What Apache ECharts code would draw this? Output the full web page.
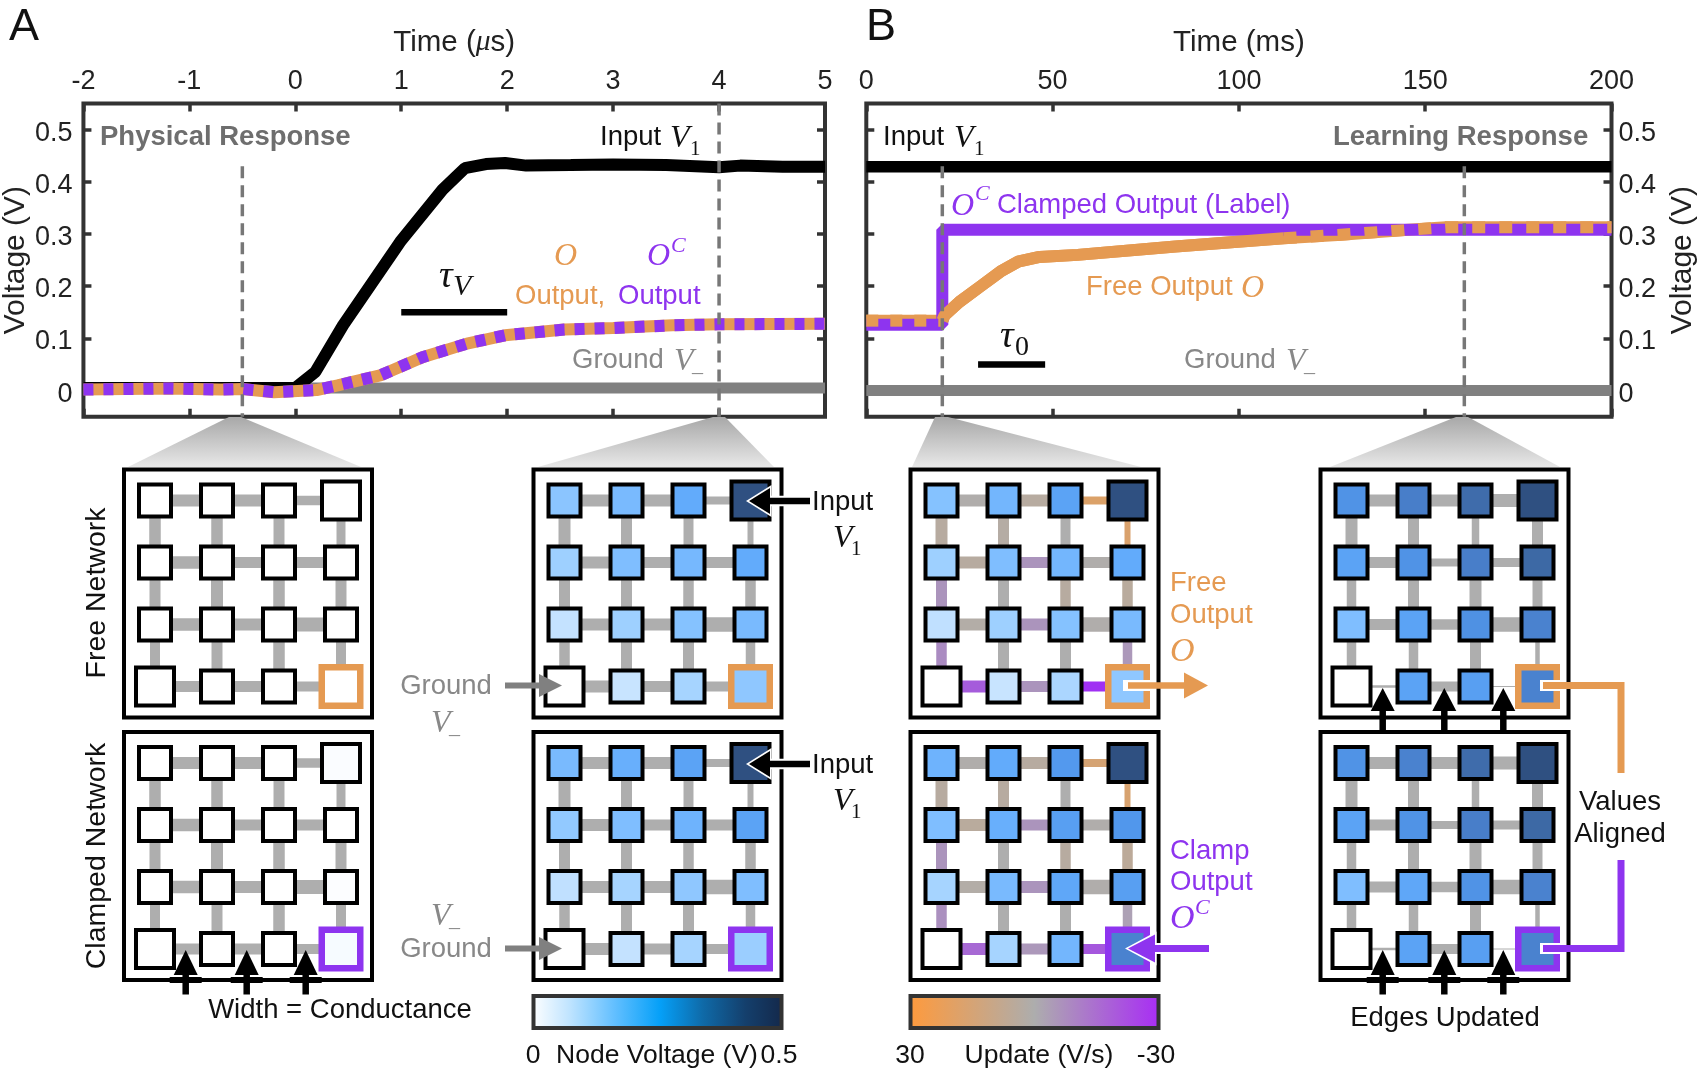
<!DOCTYPE html>
<html><head><meta charset="utf-8">
<style>html,body{margin:0;padding:0;background:#fff}#c{width:1700px;height:1070px}</style>
<script src="https://cdn.jsdelivr.net/npm/echarts@6/dist/echarts.min.js"></script>
</head><body><div id="c"></div>
<script>
// ---------- Plot A: physical response (time in microseconds, volts) ----------
const inputA = [[-2,.005],[0,.005],[.19,.036],[.45,.125],[.99,.285],[1.39,.385],[1.6,.426],[1.8,.434],[1.98,.436],[2.18,.431],[2.6,.432],[3,.433],[3.5,.432],[4,.428],[4.2,.431],[4.6,.429],[5,.429]];
const outputA = [[-2,.002],[-1.2,.004],[-.7,.002],[-.5,.003],[-.2,-.003],[.2,.001],[.4,.01],[.8,.029],[1.2,.064],[1.62,.09],[1.98,.106],[2.54,.117],[3,.12],[3.56,.125],[4,.127],[5,.128]];
const groundA = [[-2,.005],[5,.005]];
const tauA = [[1,.15],[2,.15]];
const cursorsA = [[[-.5,.43],[-.5,-.05]],[[4,.55],[4,-.05]]];
// ---------- Plot B: learning response (time in milliseconds, volts) ----------
const inputB = [[0,.429],[200,.429]];
const clampB = [[0,.126],[20.4,.126],[20.4,.308],[200,.308]];
const freeB = [[0,.134],[20.4,.134],[21,.144],[25,.17],[30.5,.199],[36,.228],[40.7,.247],[46.5,.256],[56.7,.26],[83,.276],[112,.292],[126.5,.298],[145.5,.308],[155.6,.313],[200,.313]];
const groundB = [[0,0],[200,0]];
const tauB = [[30,.05],[48,.05]];
const cursorsB = [[[20.4,.43],[20.4,-.05]],[[160.5,.43],[160.5,-.05]]];
const voltTicks = [0,.1,.2,.3,.4,.5];

// ---------- Networks: node voltages, rows top to bottom ----------
const nodesA1Free = [[0,0,0,0],[0,0,0,0],[0,0,0,0],[0,0,0,0]];
const nodesA1Clamp = [[0,0,0,.005],[0,0,0,0],[0,0,0,.003],[0,0,0,.008]];
const nodesA2Free = [[.13,.16,.2,.44],[.1,.15,.165,.2],[.055,.1,.14,.16],[0,.05,.09,.125]];
const nodesA2Clamp = [[.16,.19,.22,.44],[.12,.15,.18,.22],[.06,.09,.125,.15],[0,.055,.09,.105]];
const nodesB1Free = [[.14,.17,.22,.44],[.1,.15,.17,.2],[.06,.1,.14,.16],[0,.05,.085,.125]];
const nodesB1Clamp = [[.18,.2,.245,.44],[.15,.19,.23,.25],[.09,.16,.21,.23],[0,.09,.17,.3]];
const nodesB2Free = [[.26,.31,.36,.44],[.22,.26,.31,.37],[.15,.22,.265,.3],[0,.22,.23,.3]];
const nodesB2Clamp = [[.26,.3,.36,.44],[.22,.26,.31,.37],[.15,.21,.26,.3],[0,.22,.23,.3]];
// ---------- Edge conductances (drawn widths): horizontal by row, vertical by row gap ----------
const widthInitialH = [[12,12,9.5],[12.5,11,11],[12.5,12,14],[11,11,10]];
const widthInitialV = [[11.5,11.5,11,9],[11,12,11.5,11],[10,11,11.5,10]];
const widthBeforeH = [[12,12,8],[12,11,11],[12,12,14.5],[12,11,10]];
const widthBeforeV = [[12,11,10,6],[11,11,10.5,10.5],[10.5,11,11,9.5]];
const widthAfterH = [[12,12,13],[11,8,9],[11,10.5,14.5],[2.5,10,1]];
const widthAfterV = [[12,11,7.5,11],[9.5,11,12,10],[9.5,9.5,11,4.5]];
// ---------- Edge update rates (V/s), 0 = none ----------
const noUpdateH = [[0,0,0],[0,0,0],[0,0,0],[0,0,0]];
const noUpdateV = [[0,0,0,0],[0,0,0,0],[0,0,0,0]];
const updateFreeH = [[1,4,20],[4,-6,1],[2,-6,1],[-19,-6,-29]];
const updateFreeV = [[4,3,0,19],[-6,0,4,5],[-8,0,0,-5]];
const updateClampH = [[1,4,17],[5,-6,1],[2,-6,1],[-16,-5,-20]];
const updateClampV = [[4,4,0,18],[-6,0,4,6],[-7,0,0,-3]];
// ---------- Colour scales ----------
const voltStops = [[0,'#ffffff'],[.05,'#c8e4ff'],[.1,'#9ed0ff'],[.15,'#7fbeff'],[.2,'#62abfb'],[.25,'#5197ec'],[.3,'#4a82cf'],[.35,'#416fb0'],[.4,'#385f95'],[.45,'#2d4c7c']];
const colors = {orange:'#E59A52', purple:'#8E34EF', grey:'#808080', frame:'#333333'};

function hex(c){return [1,3,5].map(i=>parseInt(c.slice(i,i+2),16));}
function mix(a,b,t){const A=hex(a),B=hex(b);return 'rgb('+A.map((v,i)=>Math.round(v+(B[i]-v)*t)).join(',')+')';}
function voltColor(v){
  for(let i=1;i<voltStops.length;i++){ if(v<=voltStops[i][0]){const a=voltStops[i-1],b=voltStops[i];return mix(a[1],b[1],(v-a[0])/(b[0]-a[0]));}}
  return voltStops[voltStops.length-1][1];
}
function updateColor(u){
  return u>=0 ? mix('#AEAEAE','#F29A45',Math.min(1,u/30)) : mix('#AEAEAE','#A02CF5',Math.min(1,-u/30));
}

const option = {animation:false, backgroundColor:'#fff', textStyle:{fontFamily:'"Liberation Sans"'},
  grid:[], xAxis:[], yAxis:[], series:[], graphic:{elements:[]}};
const SANS='"Liberation Sans"', SERIF='"Liberation Serif"';
const FS=27.5;

// -------------- line plots ---------------
function plot(cfg){
  const g=option.grid.length;
  option.grid.push({left:cfg.left,top:103.5,width:cfg.width,height:313.2,show:true,borderColor:colors.frame,borderWidth:4,backgroundColor:'transparent'});
  const tickStyle={show:true,inside:true,length:8,lineStyle:{color:colors.frame,width:3.5}};
  const hiddenLine={show:false,onZero:false};
  const x0=option.xAxis.length, y0=option.yAxis.length;
  option.xAxis.push({gridIndex:g,type:'value',position:'top',min:cfg.xMin,max:cfg.xMax,interval:cfg.xStep,axisLine:hiddenLine,splitLine:{show:false},axisTick:tickStyle,
    axisLabel:{show:true,fontSize:FS-.5,color:'#222',margin:8.5,fontFamily:SANS,showMinLabel:true,showMaxLabel:true},
    name:cfg.xName,nameLocation:'middle',nameGap:46,nameTextStyle:{fontSize:29.5,color:'#222',fontFamily:SANS,rich:{a:{fontSize:29.5,color:'#222',fontFamily:SANS},m:{fontSize:29.5,color:'#222',fontFamily:SERIF,fontStyle:'italic'}}}});
  option.xAxis.push({gridIndex:g,type:'value',position:'bottom',min:cfg.xMin,max:cfg.xMax,interval:cfg.xStep,axisLine:hiddenLine,splitLine:{show:false},axisTick:tickStyle,axisLabel:{show:false}});
  const yBase={gridIndex:g,type:'value',min:-.05,max:.55,axisLine:hiddenLine,splitLine:{show:false}};
  const labelled={show:true,customValues:voltTicks,color:'#222',margin:cfg.yLabelMargin,fontFamily:SANS,
    formatter:v=>'{a|'+(v===0?'0':v.toFixed(1))+'}',
    rich:{a:{fontSize:FS-.5,color:'#222',fontFamily:SANS,padding:[7,0,0,0]}}};
  option.yAxis.push(Object.assign({},yBase,{position:cfg.labelSide,axisTick:Object.assign({},tickStyle,{customValues:voltTicks}),axisLabel:labelled,
    name:'Voltage (V)',nameLocation:'middle',nameRotate:90,nameGap:cfg.yNameGap,nameTextStyle:{fontSize:30,color:'#222',fontFamily:SANS}}));
  option.yAxis.push(Object.assign({},yBase,{position:cfg.labelSide==='left'?'right':'left',axisTick:Object.assign({},tickStyle,{customValues:voltTicks}),axisLabel:{show:false}}));
  cfg.lines.forEach(l=>{
    option.series.push({type:'line',xAxisIndex:x0,yAxisIndex:y0,data:l.data,showSymbol:false,silent:true,z:l.z||2,
      lineStyle:{color:l.color,width:l.width||12,cap:'butt',join:'bevel',type:l.dash||'solid',dashOffset:l.offset||0,opacity:1}});
  });
}
plot({left:81.3,width:743.7,xMin:-2,xMax:5,xStep:1,labelSide:'left',yLabelMargin:11,yNameGap:52,
  xName:'{a|Time (}{m|\u03bc}{a|s)}',
  lines:[
    {data:groundA,color:colors.grey,width:11},
    {data:inputA,color:'#000',width:12},
    {data:tauA,color:'#000',width:6.5},
    {data:outputA,color:colors.orange,width:12},
    {data:outputA,color:colors.purple,width:12,dash:[10,10]},
    {data:cursorsA[0],color:'#777',width:3.5,dash:[12,7],z:3},
    {data:cursorsA[1],color:'#777',width:3.5,dash:[12,7],z:3}
  ]});
plot({left:866.3,width:745.2,xMin:0,xMax:200,xStep:50,labelSide:'right',yLabelMargin:7,yNameGap:56,
  xName:'Time (ms)',
  lines:[
    {data:groundB,color:colors.grey,width:11},
    {data:inputB,color:'#000',width:11.5},
    {data:tauB,color:'#000',width:6.5},
    {data:freeB,color:colors.orange},
    {data:clampB,color:colors.purple},
    {data:freeB.filter(p=>p[0]<=20.4),color:colors.orange,dash:[12,12]},
    {data:freeB.filter(p=>p[0]>=20.4&&p[0]<=112),color:colors.orange},
    {data:freeB.filter(p=>p[0]>=112),color:colors.orange,dash:[13,14]},
    {data:cursorsB[0],color:'#777',width:3.5,dash:[12,7],z:3},
    {data:cursorsB[1],color:'#777',width:3.5,dash:[12,7],z:3}
  ]});

// -------------- networks ----------------
function network(left,top,nodes,wH,wV,uH,uV,outColor){
  const g=option.grid.length, x=option.xAxis.length, y=option.yAxis.length;
  option.grid.push({left,top,width:248,height:248,show:true,borderColor:'#000',borderWidth:4,backgroundColor:'transparent'});
  option.xAxis.push({gridIndex:g,type:'value',min:-.5,max:3.5,show:false});
  option.yAxis.push({gridIndex:g,type:'value',min:-.5,max:3.5,inverse:true,show:false});
  const edges=[];
  wH.forEach((row,r)=>row.forEach((w,c)=>edges.push([c,r,c+1,r,w,uH[r][c]])));
  wV.forEach((row,r)=>row.forEach((w,c)=>edges.push([c,r,c,r+1,w,uV[r][c]])));
  option.series.push({type:'custom',coordinateSystem:'cartesian2d',xAxisIndex:x,yAxisIndex:y,data:edges,silent:true,z:2,clip:false,
    encode:{x:[0,2],y:[1,3]},
    renderItem:(p,api)=>{
      const a=api.coord([api.value(0),api.value(1)]), b=api.coord([api.value(2),api.value(3)]);
      return {type:'line',shape:{x1:a[0],y1:a[1],x2:b[0],y2:b[1]},style:{stroke:updateColor(api.value(5)),lineWidth:api.value(4),lineCap:'butt'}};
    }});
  const pts=[];
  nodes.forEach((row,r)=>row.forEach((v,c)=>{
    const isOut=(c===3&&r===3), isBig=(c===3&&r===0)||(c===0&&r===3);
    pts.push({value:[c,r],symbolSize:isOut?38.5:isBig?38:32,
      itemStyle:{color:voltColor(v),opacity:1,borderColor:isOut?outColor:'#000',borderWidth:isOut?6.5:4}});
  }));
  option.series.push({type:'scatter',xAxisIndex:x,yAxisIndex:y,symbol:'rect',data:pts,silent:true,z:3,clip:false,itemStyle:{opacity:1}});
}
const colX=[124,533.5,910.5,1320.5], rowY=[469.5,732];
network(colX[0],rowY[0],nodesA1Free,widthInitialH,widthInitialV,noUpdateH,noUpdateV,colors.orange);
network(colX[0],rowY[1],nodesA1Clamp,widthInitialH,widthInitialV,noUpdateH,noUpdateV,colors.purple);
network(colX[1],rowY[0],nodesA2Free,widthBeforeH,widthBeforeV,noUpdateH,noUpdateV,colors.orange);
network(colX[1],rowY[1],nodesA2Clamp,widthBeforeH,widthBeforeV,noUpdateH,noUpdateV,colors.purple);
network(colX[2],rowY[0],nodesB1Free,widthBeforeH,widthBeforeV,updateFreeH,updateFreeV,colors.orange);
network(colX[2],rowY[1],nodesB1Clamp,widthBeforeH,widthBeforeV,updateClampH,updateClampV,colors.purple);
network(colX[3],rowY[0],nodesB2Free,widthAfterH,widthAfterV,noUpdateH,noUpdateV,colors.orange);
network(colX[3],rowY[1],nodesB2Clamp,widthAfterH,widthAfterV,noUpdateH,noUpdateV,colors.purple);

// -------------- annotations --------------
const G=option.graphic.elements;
function T(text,x,y,o){o=o||{};
  G.push({type:'text',x,y:y+(o.rot?0:1.5),rotation:o.rot||0,z:100,silent:true,style:{text,fill:o.fill||'#222',align:o.align||'left',verticalAlign:'middle',
    fontFamily:o.serif?SERIF:SANS,fontStyle:o.serif&&!o.upright?'italic':'normal',fontWeight:o.bold?'bold':'normal',fontSize:o.size||FS}});
}
function M(text,x,y,fill,size){T(text,x,y,{serif:true,fill,size:size||32});}
function Sub(text,x,y,fill){T(text,x,y,{serif:true,upright:true,fill,size:21});}
function poly(points,fill,z){G.push({type:'polygon',z:z||101,silent:true,shape:{points},style:{fill}});}
function wedge(apex0,apex1,base0,base1){
  G.push({type:'polygon',z:1,silent:true,shape:{points:[[apex0,417],[apex1,417],[base1,467],[base0,467]]},
    style:{fill:new echarts.graphic.LinearGradient(0,0,0,1,[{offset:0,color:'#a8a8a8'},{offset:1,color:'#e8e8e8'}])}});
}
function path(pts,color,w,z){G.push({type:'polyline',z:z||101,silent:true,shape:{points:pts},style:{stroke:color,lineWidth:w,lineCap:'butt',lineJoin:'miter',fill:null}});}
function arrowH(xTail,xBase,xTip,y,half,color,w,halo){
  if(halo){path([[xBase,y],[xTail,y]],'#ffffff',w+4,100);
    poly([[xTip-3,y],[xBase+1.5,y-half-3],[xBase+1.5,y+half+3]],'#ffffff',100);}
  path([[xTail,y],[xBase,y]],color,w);
  poly([[xTip,y],[xBase,y-half],[xBase,y+half]],color);
}
function arrowUp(x,yTail,yBase,yTip){
  path([[x,yTail],[x,yBase]],'#000',6.5);
  poly([[x,yTip],[x-12,yBase],[x+12,yBase]],'#000');
}
wedge(229,241,128,361); wedge(713,725,538,774); wedge(935,948,912,1141); wedge(1456,1468,1330,1560);

T('A',9,26,{size:45,fill:'#111'}); T('B',866,26,{size:45,fill:'#111'});
T('Physical Response',100,136,{bold:true,fill:'#6e6e6e'});
T('Learning Response',1333,136,{bold:true,fill:'#6e6e6e'});
T('Input',600,136,{fill:'#111'}); M('V',670,137,'#111'); Sub('1',690,148,'#111');
T('Input',883,136,{fill:'#111'}); M('V',954,137,'#111'); Sub('1',974,148,'#111');
M('\u03c4',439,276,'#111',38); M('V',453,286,'#111',30);
M('\u03c4',1000,336,'#111',38); T('0',1015,346,{size:28,fill:'#111',serif:true,upright:true});
M('O',554,255,colors.orange); M('O',647,255,colors.purple); M('C',671,245,colors.purple,22);
T('Output,',515,295,{fill:colors.orange}); T('Output',618,295,{fill:colors.purple});
T('Ground',572,359,{fill:'#888'}); M('V',674,360,'#888'); M('_',692,364,'#888',22);
T('Ground',1184,359,{fill:'#888'}); M('V',1286,360,'#888'); M('_',1304,364,'#888',22);
M('O',951,205,colors.purple); M('C',975,193,colors.purple,22); T('Clamped Output (Label)',997,204,{fill:colors.purple});
T('Free Output',1086,286,{fill:colors.orange}); M('O',1241,287,colors.orange);

T('Free Network',97,593,{rot:Math.PI/2,align:'center',fill:'#111',size:28.5});
T('Clamped Network',97,856,{rot:Math.PI/2,align:'center',fill:'#111',size:28.5});

T('Ground',446,685,{align:'center',fill:'#888'}); M('V',431,722,'#888'); M('_',449,726,'#888',22);
M('V',431,915,'#888'); M('_',449,919,'#888',22); T('Ground',446,948,{align:'center',fill:'#888'});
arrowH(505,539,562,685.5,11.5,colors.grey,6);
arrowH(505,539,562,948.5,11.5,colors.grey,6);

T('Input',812,501,{fill:'#111'}); M('V',833,537,'#111'); Sub('1',851,548,'#111');
T('Input',812,764,{fill:'#111'}); M('V',833,800,'#111'); Sub('1',851,811,'#111');
arrowH(810,770,749,501,13,'#000',6.5,true);
arrowH(810,770,749,764,13,'#000',6.5,true);

[185.7,246.7,305.7,1382.7,1444.3,1503.3].forEach(x=>{arrowUp(x,994.5,975,950); path([[x-16,980],[x+16,980]],'#000',6);});
[1382.7,1444.3,1503.3].forEach(x=>arrowUp(x,732,711,688));
T('Width = Conductance',340,1009,{align:'center',fill:'#111'});
T('Edges Updated',1445,1017,{align:'center',fill:'#111'});

T('Free',1170,582,{fill:colors.orange}); T('Output',1170,614,{fill:colors.orange}); M('O',1170,651,colors.orange,34);
T('Clamp',1170,850,{fill:colors.purple}); T('Output',1170,881,{fill:colors.purple}); M('O',1170,918,colors.purple,34); M('C',1195,907,colors.purple,22);
path([[1123,685.5],[1155,685.5]],'#ffffff',11,100);
arrowH(1128,1184,1208,685.5,13,colors.orange,6.5,false);
arrowH(1209,1155,1128,948.5,14,colors.purple,7,true);

path([[1540,685.5],[1565,685.5]],'#ffffff',11,100);
path([[1540,948.5],[1565,948.5]],'#ffffff',11,100);
path([[1543,685.5],[1621,685.5],[1621,773]],colors.orange,7);
path([[1543,948.5],[1621,948.5],[1621,860]],colors.purple,7);
T('Values',1620,801,{align:'center',fill:'#111'}); T('Aligned',1620,833,{align:'center',fill:'#111'});

function colorbar(x,stops){
  G.push({type:'rect',z:50,silent:true,shape:{x,y:996,width:248,height:32},
    style:{fill:new echarts.graphic.LinearGradient(0,0,1,0,stops),stroke:colors.frame,lineWidth:4}});
}
colorbar(533.5,[{offset:0,color:'#ffffff'},{offset:.15,color:'#c0e4ff'},{offset:.33,color:'#62bfff'},{offset:.51,color:'#05a0f8'},{offset:.68,color:'#0f6aa8'},{offset:.85,color:'#143f6c'},{offset:1,color:'#14284a'}]);
colorbar(910.5,[{offset:0,color:'#FF9A3C'},{offset:.5,color:'#ADADAD'},{offset:1,color:'#A82CF5'}]);
const barFont={align:'center',fill:'#111',size:26.5};
T('0',533,1054,barFont); T('Node Voltage (V)',657,1054,barFont); T('0.5',779,1054,barFont);
T('30',910,1054,barFont); T('Update (V/s)',1039,1054,barFont); T('-30',1156,1054,barFont);

const chart=echarts.init(document.getElementById('c'),null,{renderer:'canvas'});
chart.setOption(option);
</script></body></html>
